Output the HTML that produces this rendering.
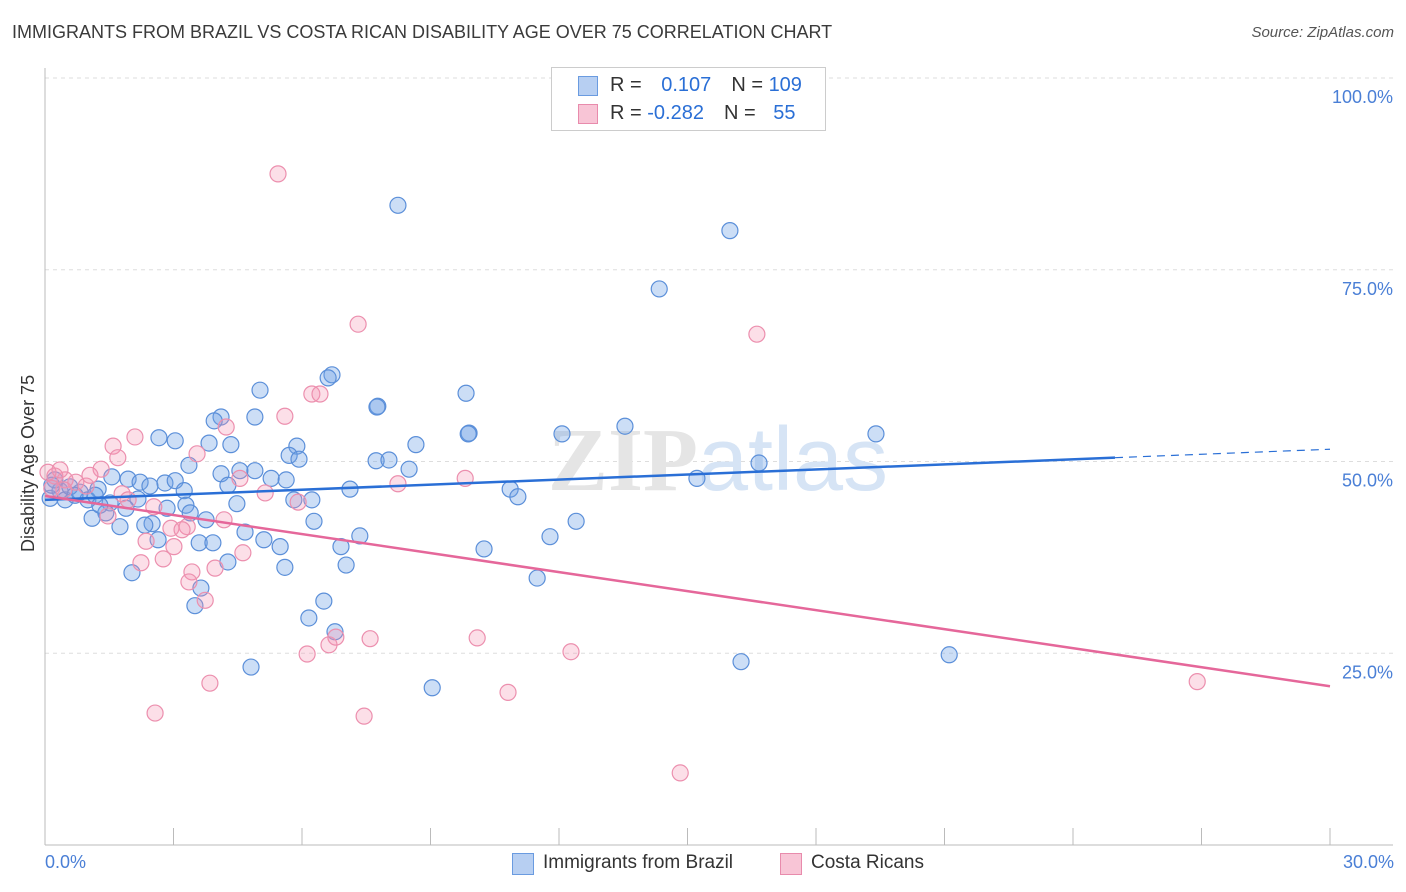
<!DOCTYPE html>
<html><head><meta charset="utf-8"><style>
body{margin:0;background:#fff;font-family:"Liberation Sans",sans-serif;}
#wrap{position:relative;width:1406px;height:892px;overflow:hidden;}
.t{position:absolute;white-space:nowrap;}
</style></head><body>
<div id="wrap">
<div class="t" style="left:12px;top:22px;font-size:18px;color:#3a3a3a;">IMMIGRANTS FROM BRAZIL VS COSTA RICAN DISABILITY AGE OVER 75 CORRELATION CHART</div>
<div class="t" style="right:12px;top:24px;font-size:15px;color:#555;font-style:italic;">Source: ZipAtlas.com</div>
<svg id="svg" width="1406" height="892" style="position:absolute;left:0;top:0"></svg>
</div>
<script>
const bx=[8.24,15.99,14.34,6.70,6.61,5.02,9.83,7.77,7.75,4.11,3.95,4.90,13.54,9.90,9.88,12.07,19.40,2.66,3.04,3.83,4.34,5.88,8.66,5.70,5.93,7.73,8.03,16.67,3.36,8.50,4.55,4.90,4.11,5.28,5.63,15.22,1.56,1.94,2.22,2.80,3.04,2.45,3.25,4.27,1.24,0.82,0.35,0.12,0.47,1.00,1.52,2.17,7.12,10.86,11.04,5.81,6.23,4.48,3.29,2.85,1.89,1.42,1.10,1.75,2.50,2.33,3.76,3.39,6.28,12.40,4.67,2.64,3.60,3.92,5.11,5.49,6.91,7.35,10.25,11.79,4.27,5.60,7.03,2.03,11.49,3.64,6.51,3.50,6.16,6.77,16.25,21.11,4.81,9.04,0.23,0.16,0.58,0.70,1.17,1.28];
const by=[83.4,80.1,72.5,61.3,60.9,59.3,58.9,57.2,57.1,55.8,55.3,55.8,54.6,53.7,53.6,53.6,53.6,53.1,52.7,52.4,52.2,52.0,52.2,50.8,50.3,50.1,50.2,49.8,49.5,49.0,48.8,48.8,48.4,47.8,47.6,47.8,48.0,47.7,47.3,47.2,47.5,46.8,46.2,46.9,46.4,46.0,46.2,45.2,45.0,45.0,44.6,45.1,46.4,46.4,45.4,45.0,45.0,44.5,44.3,43.9,43.9,43.3,42.6,41.5,41.9,41.7,42.4,43.3,42.2,42.2,40.8,39.8,39.4,39.4,39.8,38.9,38.9,40.3,38.6,40.2,36.9,36.2,36.5,35.5,34.8,33.5,31.8,31.2,29.6,27.8,23.9,24.8,23.2,20.5,47.6,46.9,46.7,45.6,45.6,44.3];
const px=[5.44,7.31,16.62,6.23,6.42,5.60,4.23,2.10,1.59,3.55,1.70,1.31,9.81,8.24,4.55,0.72,0.96,0.47,5.14,5.91,1.80,2.54,0.23,0.07,0.44,1.47,3.32,4.18,2.94,3.20,2.36,3.01,4.62,2.24,2.76,3.43,3.97,3.36,3.74,6.12,6.63,6.79,7.59,10.09,12.28,3.85,10.81,2.57,7.45,14.83,26.90,0.16,1.05,1.94,0.35];
const py=[87.5,67.9,66.6,58.8,58.8,55.9,54.5,53.2,52.0,51.0,50.5,49.0,47.8,47.1,47.8,47.3,46.8,47.6,45.9,44.7,45.8,44.1,48.1,48.6,46.3,42.9,41.5,42.4,41.3,41.1,39.6,38.9,38.1,36.8,37.3,35.6,36.1,34.3,31.9,24.9,26.1,27.1,26.9,27.0,25.2,21.1,19.9,17.2,16.8,9.4,21.3,46.5,48.2,45.0,48.9];
const blueTrend=[45.0,50.5,51.6]; // at x=0, 24.98, 30
const blueTrendX=[0,24.98,30];
const pinkTrend=[45.5,20.7];
const pinkTrendX=[0,30];
const yTicks=[25,50,75,100];
const yTickLabels=["25.0%","50.0%","75.0%","100.0%"];
const xTicks=[0,3,6,9,12,15,18,21,24,27,30];

const X=v=>45+v/30*1285, Y=v=>845-v*7.67;
const svg=document.getElementById('svg');const NS='http://www.w3.org/2000/svg';
function mk(t,a,p){const e=document.createElementNS(NS,t);for(const k in a)e.setAttribute(k,a[k]);(p||svg).appendChild(e);return e;}
// grid
yTicks.forEach((v,i)=>{
 const g=mk('line',{x1:45,x2:1393,y1:Y(v),y2:Y(v),stroke:'#ddd','stroke-dasharray':'4,4'});
 
 
 const t=mk('text',{x:1393,y:Y(v)+25,'text-anchor':'end','font-size':18,fill:'#4a7fd6','font-family':'Liberation Sans'});
 t.textContent=yTickLabels[i];
 
 
});
const ax=mk('line',{x1:45,x2:45,y1:68,y2:845,stroke:'#bbb'});


const axx=mk('line',{x1:45,x2:1393,y1:845,y2:845,stroke:'#bbb'});


xTicks.forEach(v=>{const l=mk('line',{x1:X(v),x2:X(v),y1:828,y2:845,stroke:'#bbb'});
 
 });
// watermark
const w=mk('text',{x:718,y:490,'text-anchor':'middle','font-size':90,fill:'#e5e5e5','font-family':'Liberation Serif','font-weight':'bold'});
w.innerHTML='ZIP<tspan fill="#d6e4f5" font-family="Liberation Sans" font-weight="normal">atlas</tspan>';


// points
bx.forEach((v,i)=>{const c=mk('circle',{cx:X(v),cy:Y(by[i]),r:8,fill:'rgba(110,160,230,0.35)',stroke:'#5b8fd9','stroke-width':1.2});
 
 });
px.forEach((v,i)=>{const c=mk('circle',{cx:X(v),cy:Y(py[i]),r:8,fill:'rgba(245,150,180,0.3)',stroke:'#ec8fae','stroke-width':1.2});
 
 });
// trends
const b1=mk('line',{x1:X(blueTrendX[0]),y1:Y(blueTrend[0]),x2:X(blueTrendX[1]),y2:Y(blueTrend[1]),stroke:'#2a6fd6','stroke-width':2.5});


const b2=mk('line',{x1:X(blueTrendX[1]),y1:Y(blueTrend[1]),x2:X(blueTrendX[2]),y2:Y(blueTrend[2]),stroke:'#2a6fd6','stroke-width':1.2,'stroke-dasharray':'8,6'});


const p1=mk('line',{x1:X(pinkTrendX[0]),y1:Y(pinkTrend[0]),x2:X(pinkTrendX[1]),y2:Y(pinkTrend[1]),stroke:'#e5679a','stroke-width':2.5});


</script>
<div class="t" style="left:18px;top:552px;transform:rotate(-90deg);transform-origin:0 0;font-size:18px;color:#333;">Disability Age Over 75</div>
<div class="t" style="left:45px;top:852px;font-size:18px;color:#4a7fd6;">0.0%</div>
<div class="t" style="right:12px;top:852px;font-size:18px;color:#4a7fd6;">30.0%</div>
<div class="t" style="left:551px;top:67px;width:273px;height:62px;border:1px solid #ccc;background:#fff;font-size:20px;">
 <div style="position:absolute;left:26px;top:8px;width:18px;height:18px;background:#b7cff2;border:1px solid #6a9be0"></div>
 <div class="t" style="left:58px;top:6px;color:#333">R = <span style="color:#2a6fd6;margin-left:14px">0.107</span><span style="margin-left:20px">N = </span><span style="color:#2a6fd6">109</span></div>
 <div style="position:absolute;left:26px;top:36px;width:18px;height:18px;background:#f8c5d6;border:1px solid #e88bac"></div>
 <div class="t" style="left:58px;top:34px;color:#333">R = <span style="color:#2a6fd6">-0.282</span><span style="margin-left:20px">N = </span><span style="color:#2a6fd6;margin-left:12px">55</span></div>
</div>
<div class="t" style="left:512px;top:853px;width:20px;height:20px;background:#b7cff2;border:1px solid #6a9be0"></div>
<div class="t" style="left:543px;top:852px;font-size:19px;color:#333">Immigrants from Brazil</div>
<div class="t" style="left:780px;top:853px;width:20px;height:20px;background:#f8c5d6;border:1px solid #e88bac"></div>
<div class="t" style="left:811px;top:852px;font-size:19px;color:#333">Costa Ricans</div>
</body></html>
